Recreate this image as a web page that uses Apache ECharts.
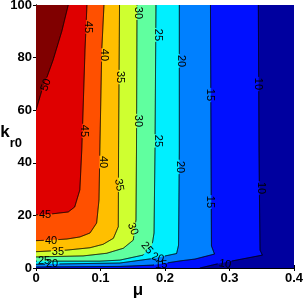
<!DOCTYPE html>
<html><head><meta charset="utf-8">
<script src="https://cdn.jsdelivr.net/npm/echarts@6/dist/echarts.min.js"></script>
<style>html,body{margin:0;padding:0;background:#fff;overflow:hidden}#c{width:303px;height:302px}</style>
</head><body><div id="c"></div>
<script>
// ---- data ----
const xTicks = [0, 0.1, 0.2, 0.3, 0.4];
const yTicks = [0, 20, 40, 60, 80, 100];
const levels = [10, 15, 20, 25, 30, 35, 40, 45, 50];
// contour lines: [mu, kr0] points, from the top edge down to the left/bottom edge
const contour10 = [[0.3447,100],[0.3457,45],[0.3473,6.8],[0.351,4.9],[0.2853,1.8],[0.254,0]];
const contour15 = [[0.2705,100],[0.2713,45],[0.272,8.4],[0.2767,5.3],[0.2465,3.4],[0.2233,2.7],[0.1814,1.1],[0.130,0.6],[0,0.4]];
const contour20 = [[0.2222,100],[0.2222,45],[0.221,8.7],[0.218,5.5],[0.181,3.6],[0.130,1.9],[0,1.4]];
const contour25 = [[0.186,100],[0.1845,45],[0.183,13.3],[0.18,8.7],[0.166,4.9],[0.130,3.0],[0.099,2.6],[0,2.6]];
const contour30 = [[0.1566,100],[0.1558,45],[0.155,18.3],[0.1508,10.6],[0.1353,7.5],[0.1096,5.6],[0.0733,4.6],[0,4.2]];
const contour35 = [[0.1295,100],[0.128,45],[0.1276,15.7],[0.12,11.3],[0.104,9.0],[0.0837,7.7],[0.0476,6.8],[0,6.2]];
const contour40 = [[0.1054,100],[0.102,83],[0.099,45],[0.0977,25.9],[0.094,17.1],[0.0837,13.3],[0.068,11.8],[0.0476,11],[0.0217,10.6],[0,10.4]];
const contour45 = [[0.079,100],[0.076,83],[0.073,60],[0.071,45],[0.068,29.7],[0.060,23.2],[0.050,21.3],[0.022,20.5],[0,20.2]];
const contour50 = [[0.050,100],[0.040,90],[0.0264,79],[0.017,72.6],[0.0093,67.7],[0,60]];
const contours = [contour10, contour15, contour20, contour25, contour30, contour35, contour40, contour45, contour50];
// inline contour labels: [mu, kr0, text, angle in degrees]
const contourLabels = [
  [0.0155,69.6,'50',69],
  [0.0806,91.6,'45',-90],[0.0744,52.1,'45',-90],[0.014,20.2,'45',0],
  [0.1054,81.0,'40',-90],[0.1039,40.3,'40',-90],[0.0233,10.3,'40',0],
  [0.130,72.6,'35',-90],[0.1287,31.6,'35',-80],[0.034,6.1,'35',0],
  [0.158,97,'30',-90],[0.158,55.9,'30',-90],[0.150,14.8,'30',-70],
  [0.189,88.6,'25',-90],[0.189,48.3,'25',-90],[0.172,7.6,'25',-50],[0.0124,2.7,'25',0],
  [0.2248,78.7,'20',-90],[0.2233,38.4,'20',-90],[0.189,3.8,'20',-20],[0.0248,1.5,'20',0],
  [0.2698,65.8,'15',-90],[0.2698,25.1,'15',-90],[0.194,1.1,'15',0],
  [0.344,70,'10',-90],[0.349,30.4,'10',-90],[0.293,1.5,'10',-10]
];

// ---- styles ----
const bandColors = ['#00009F','#0010FF','#0080FF','#00EFFF','#60FF9F','#CFFF30','#FFBF00','#FF5000','#DF0000','#800000'];
const tickFont = {color:'#000', fontFamily:'Liberation Sans, Arial, sans-serif', fontWeight:'bold', fontSize:13};
const labelFont = 'normal 11px "Liberation Sans", Arial, sans-serif';
const gapR = 7;

const chart = echarts.init(document.getElementById('c'), null, {renderer:'canvas'});

function fillItem(params, api) {
  const i = params.dataIndex;
  let pts;
  if (i === 0) {
    pts = [[xTicks[0], yTicks[0]], [xTicks[xTicks.length-1], yTicks[0]], [xTicks[xTicks.length-1], yTicks[yTicks.length-1]], [xTicks[0], yTicks[yTicks.length-1]]];
  } else {
    const c = contours[i-1];
    pts = c.slice();
    const last = c[c.length-1];
    if (last[0] > 0) pts.push([0, 0]);
    pts.push([0, yTicks[yTicks.length-1]]);
  }
  return {type:'polygon', shape:{points: pts.map(p => api.coord(p))}, style:{fill: bandColors[i], stroke: null}};
}

function lineItem(params, api) {
  const i = params.dataIndex;
  const lvl = String(levels[i]);
  const px = contours[i].map(p => api.coord(p));
  const gaps = contourLabels.filter(l => l[2] === lvl).map(l => api.coord([l[0], l[1]]));
  const dense = [];
  for (let s = 0; s < px.length - 1; s++) {
    const a = px[s], b = px[s+1];
    const len = Math.hypot(b[0]-a[0], b[1]-a[1]);
    const n = Math.max(1, Math.ceil(len / 0.5));
    for (let t = 0; t < n; t++) dense.push([a[0] + (b[0]-a[0])*t/n, a[1] + (b[1]-a[1])*t/n]);
  }
  dense.push(px[px.length-1]);
  const runs = [];
  let cur = [];
  dense.forEach(p => {
    const hidden = gaps.some(g => Math.hypot(p[0]-g[0], p[1]-g[1]) < gapR);
    if (hidden) { if (cur.length > 1) runs.push(cur); cur = []; }
    else cur.push(p);
  });
  if (cur.length > 1) runs.push(cur);
  return {type:'group', children: runs.map(r => ({type:'polyline', shape:{points:r}, style:{stroke:'#000', lineWidth:1, fill:null}}))};
}

function textItem(params, api) {
  const l = contourLabels[params.dataIndex];
  const p = api.coord([l[0], l[1]]);
  return {type:'text', x:p[0], y:p[1], rotation: l[3]*Math.PI/180,
    style:{text:l[2], font:labelFont, fill:'#000', align:'center', verticalAlign:'middle', textAlign:'center', textVerticalAlign:'middle'}};
}

const axisCommon = {
  axisLine:{show:true, lineStyle:{color:'#000', width:1}},
  axisTick:{show:true, inside:true, length:3, lineStyle:{color:'#000'}},
  splitLine:{show:false}
};

chart.setOption({
  animation:false,
  grid:{left:36, right:9, top:5, bottom:34, containLabel:false, outerBoundsMode:'none'},
  xAxis:[
    Object.assign({type:'value', min:xTicks[0], max:xTicks[xTicks.length-1], interval:0.1, position:'bottom',
      axisLabel:Object.assign({margin:4}, tickFont),
      name:'μ', nameLocation:'middle', nameGap:14, nameMoveOverlap:false,
      nameTextStyle:{color:'#000', fontFamily:'Liberation Sans, Arial, sans-serif', fontWeight:'bold', fontSize:17, padding:[0,54,0,0]}}, axisCommon),
    Object.assign({type:'value', min:xTicks[0], max:xTicks[xTicks.length-1], interval:0.1, position:'top', axisLabel:{show:false}}, axisCommon)
  ],
  yAxis:[
    Object.assign({type:'value', min:yTicks[0], max:yTicks[yTicks.length-1], interval:20, position:'left',
      axisLabel:Object.assign({margin:4}, tickFont),
      name:'{k|k}{s|r0}', nameLocation:'middle', nameRotate:0, nameGap:14, nameMoveOverlap:false,
      nameTextStyle:{color:'#000', align:'right', verticalAlign:'middle', rich:{
        k:{fontSize:17, fontWeight:'bold', fontFamily:'Liberation Sans, Arial, sans-serif', color:'#000', verticalAlign:'top', lineHeight:26},
        s:{fontSize:13, fontWeight:'bold', fontFamily:'Liberation Sans, Arial, sans-serif', color:'#000', verticalAlign:'bottom', lineHeight:26}}}}, axisCommon),
    Object.assign({type:'value', min:yTicks[0], max:yTicks[yTicks.length-1], interval:20, position:'right', axisLabel:{show:false}}, axisCommon)
  ],
  series:[
    {type:'custom', coordinateSystem:'cartesian2d', renderItem:fillItem, data:bandColors.map((c,i)=>[0,0]), clip:true, z:1, silent:true},
    {type:'custom', coordinateSystem:'cartesian2d', renderItem:lineItem, data:levels.map(l=>[0,0]), clip:true, z:2, silent:true},
    {type:'custom', coordinateSystem:'cartesian2d', renderItem:textItem, data:contourLabels.map(l=>[l[0],l[1]]), clip:true, z:3, silent:true}
  ]
});
</script></body></html>
